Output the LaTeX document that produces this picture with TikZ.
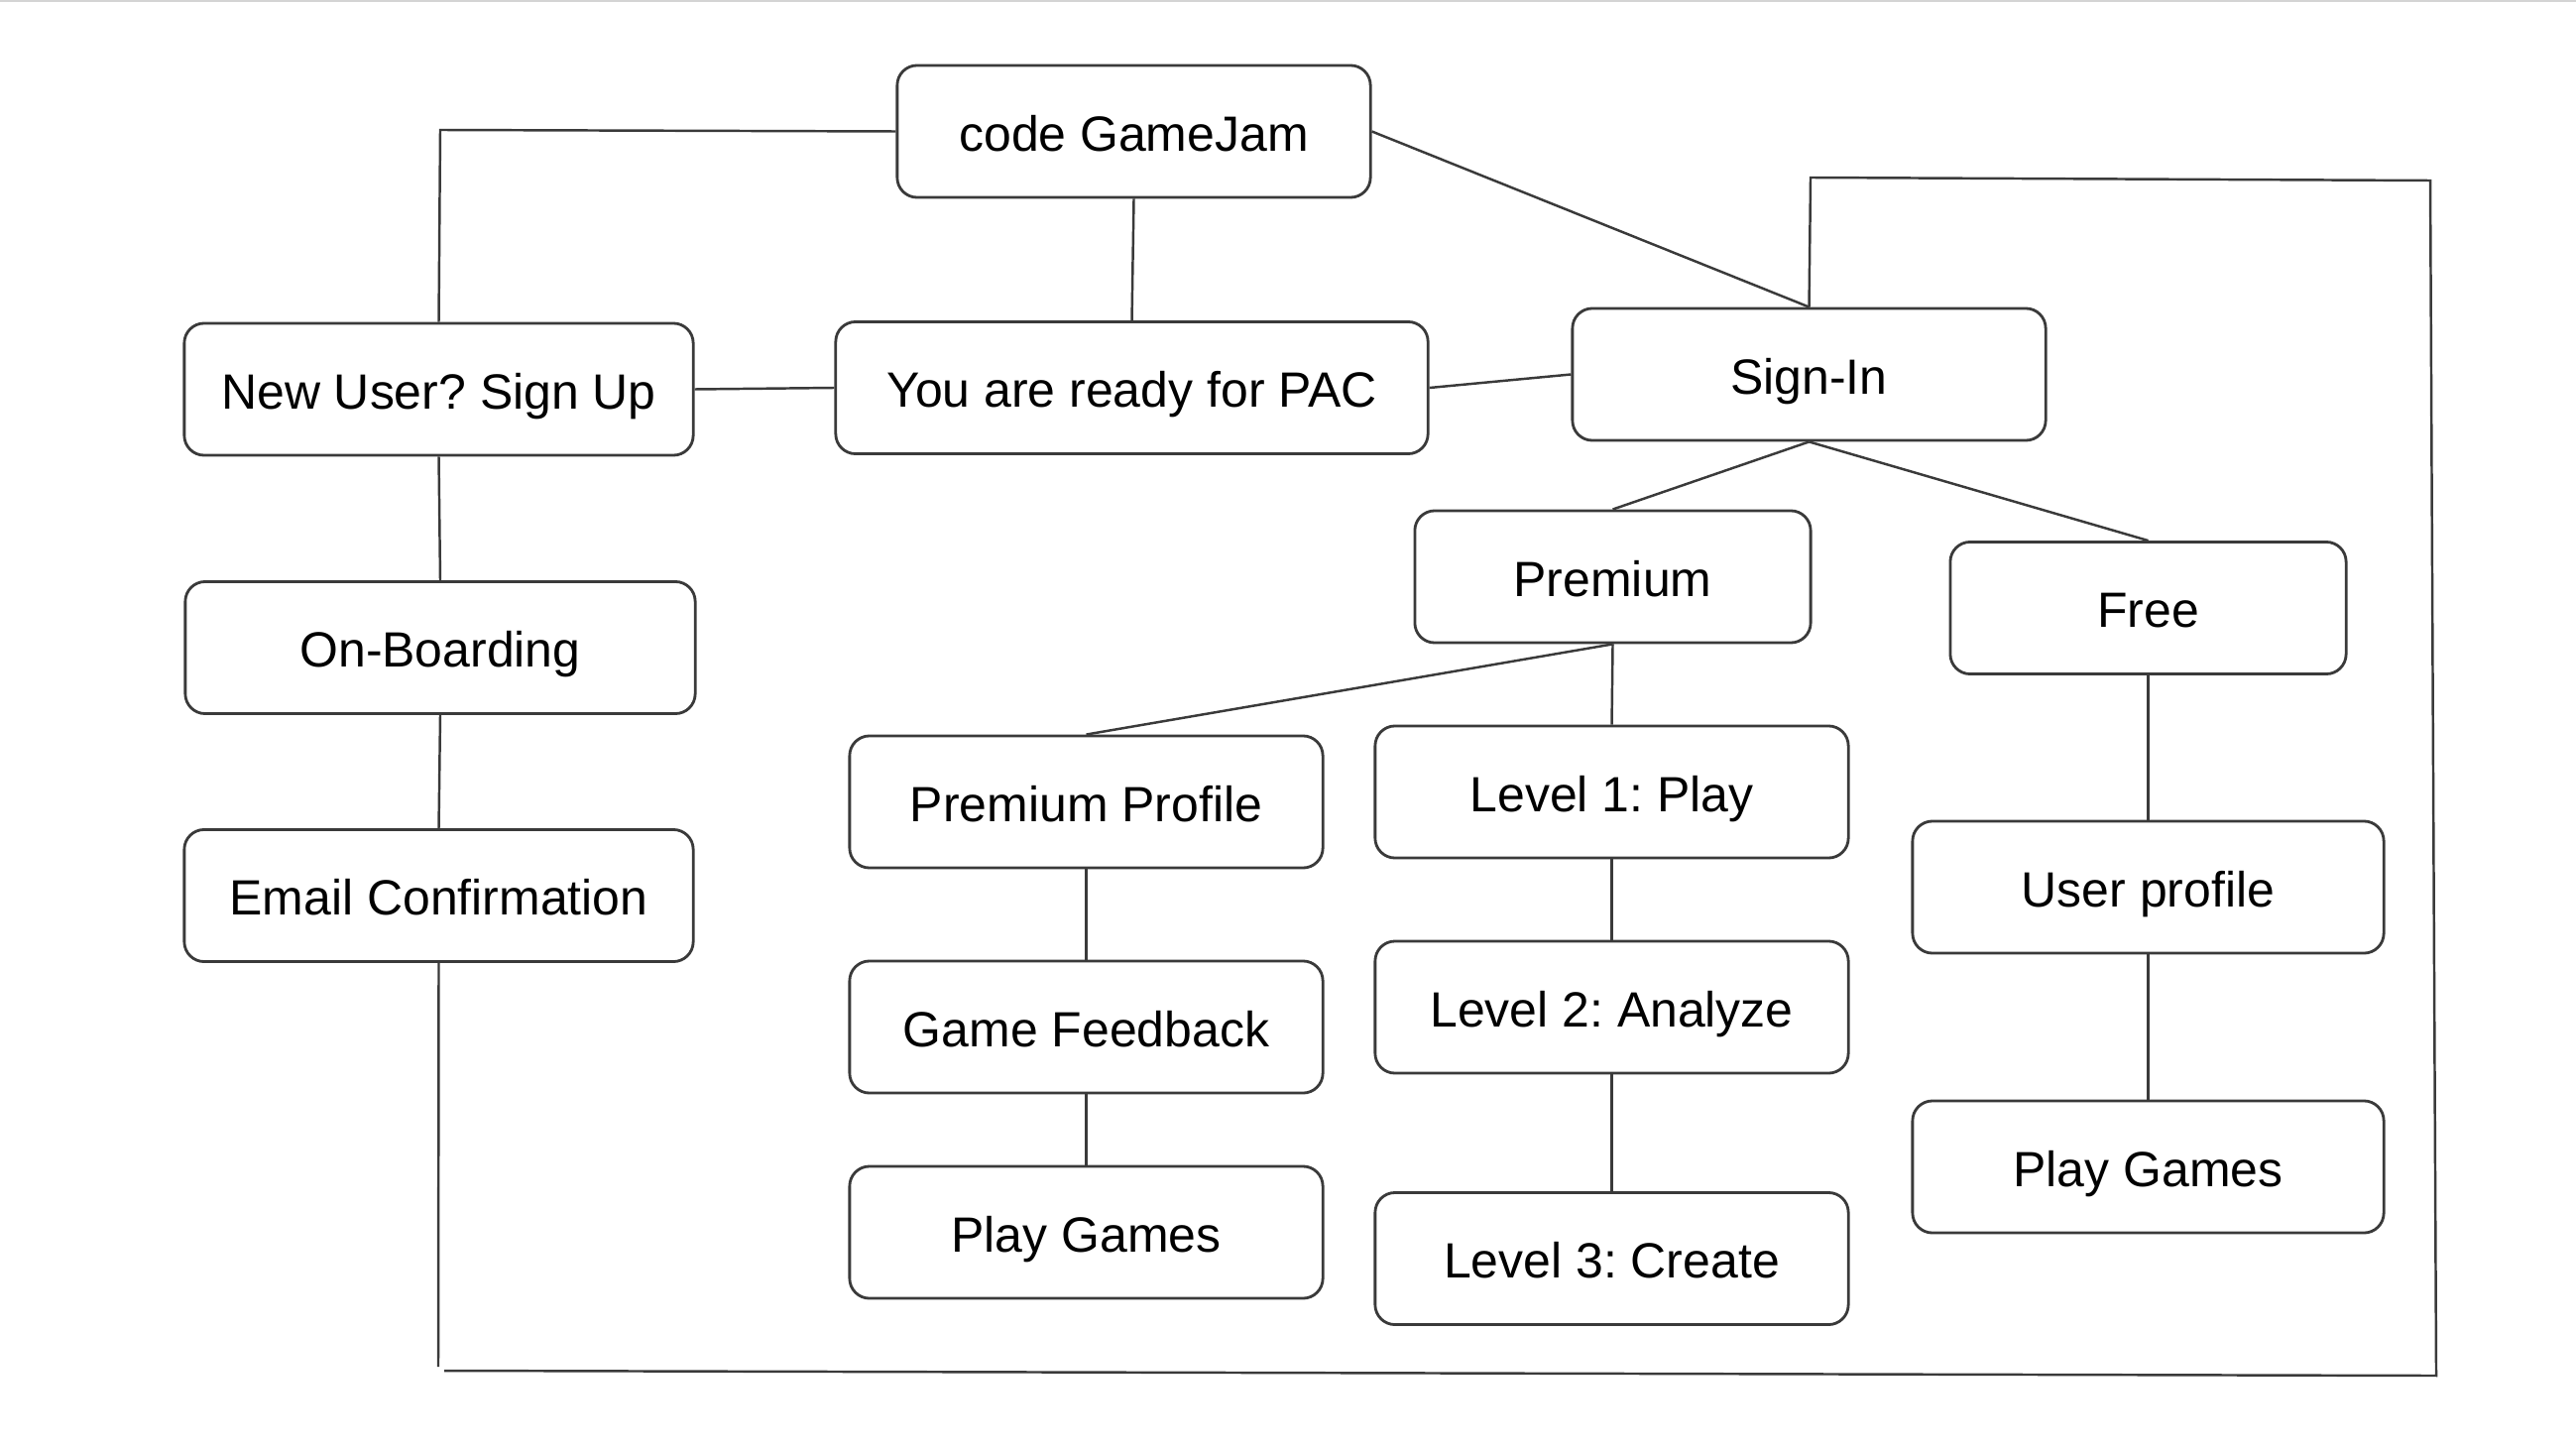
\documentclass[tikz,border=0pt]{standalone}
\usepackage{fontspec}
\setmainfont{Liberation Sans}
\frenchspacing
\definecolor{edge}{HTML}{3A3A3A}
\definecolor{topline}{HTML}{D4D4D4}
\begin{document}
\begin{tikzpicture}[x=0.01cm,y=-0.01cm,
  box/.style={draw=edge, line width=0.8pt, rounded corners=0.2cm, inner sep=0pt,
    minimum height=1.33cm, text height=11.2pt, text depth=0pt,
    font=\fontsize{14.2}{16}\selectfont, text=black},
  conn/.style={draw=edge, line width=0.7pt}]
\useasboundingbox (0,0) rectangle (2598,1464);
\fill[topline] (0,0) rectangle (2598,2.5);
% nodes
\node[box, minimum width=4.77cm] (gj)  at (1143.5,132.5) {code GameJam};
\node[box, minimum width=5.13cm] (su)  at (442.5,392.5) {New User? Sign Up};
\node[box, minimum width=5.97cm] (pac) at (1141.5,391) {You are ready for PAC};
\node[box, minimum width=4.77cm] (si)  at (1824.5,377.5) {Sign-In};
\node[box, minimum width=3.99cm] (prem) at (1626.5,581.5) {Premium};
\node[box, minimum width=3.99cm] (free) at (2166.5,613) {Free};
\node[box, minimum width=5.14cm] (ob)  at (444,653) {On-Boarding};
\node[box, minimum width=5.13cm] (ec)  at (442.5,903) {Email Confirmation};
\node[box, minimum width=4.77cm] (pp)  at (1095.5,808.5) {Premium Profile};
\node[box, minimum width=4.77cm] (gf)  at (1095.5,1035.5) {Game Feedback};
\node[box, minimum width=4.77cm] (pga) at (1095.5,1242.5) {Play Games};
\node[box, minimum width=4.77cm] (l1)  at (1625.5,798.5) {Level 1: Play};
\node[box, minimum width=4.77cm] (l2)  at (1625.5,1015.5) {Level 2: Analyze};
\node[box, minimum width=4.77cm] (l3)  at (1625.5,1269) {Level 3: Create};
\node[box, minimum width=4.75cm] (up)  at (2166.5,894.5) {User profile};
\node[box, minimum width=4.75cm] (pgb) at (2166.5,1176.5) {Play Games};
% loop corner coordinates
\coordinate (k0) at (444,131);
\coordinate (c1) at (1826,179);
\coordinate (c2) at (2451,182);
\coordinate (c3) at (2457,1387);
\coordinate (c4) at (448,1382);
\coordinate (c5) at (442,1378);
% connectors
\draw[conn] (gj.west) -- (k0) -- (su.north);
\draw[conn] (gj.south) -- (pac.north);
\draw[conn] (gj.east) -- (si.north);
\draw[conn] (si.north) -- (c1) -- (c2) -- (c3) -- (c4);
\draw[conn] (ec.south) -- (c5);
\draw[conn] (su.east) -- (pac.west);
\draw[conn] (pac.east) -- (si.west);
\draw[conn] (si.south) -- (prem.north);
\draw[conn] (si.south) -- (free.north);
\draw[conn] (prem.south) -- (pp.north);
\draw[conn] (prem.south) -- (l1.north);
\draw[conn] (l1.south) -- (l2.north);
\draw[conn] (l2.south) -- (l3.north);
\draw[conn] (pp.south) -- (gf.north);
\draw[conn] (gf.south) -- (pga.north);
\draw[conn] (free.south) -- (up.north);
\draw[conn] (up.south) -- (pgb.north);
\draw[conn] (su.south) -- (ob.north);
\draw[conn] (ob.south) -- (ec.north);
\end{tikzpicture}
\end{document}
